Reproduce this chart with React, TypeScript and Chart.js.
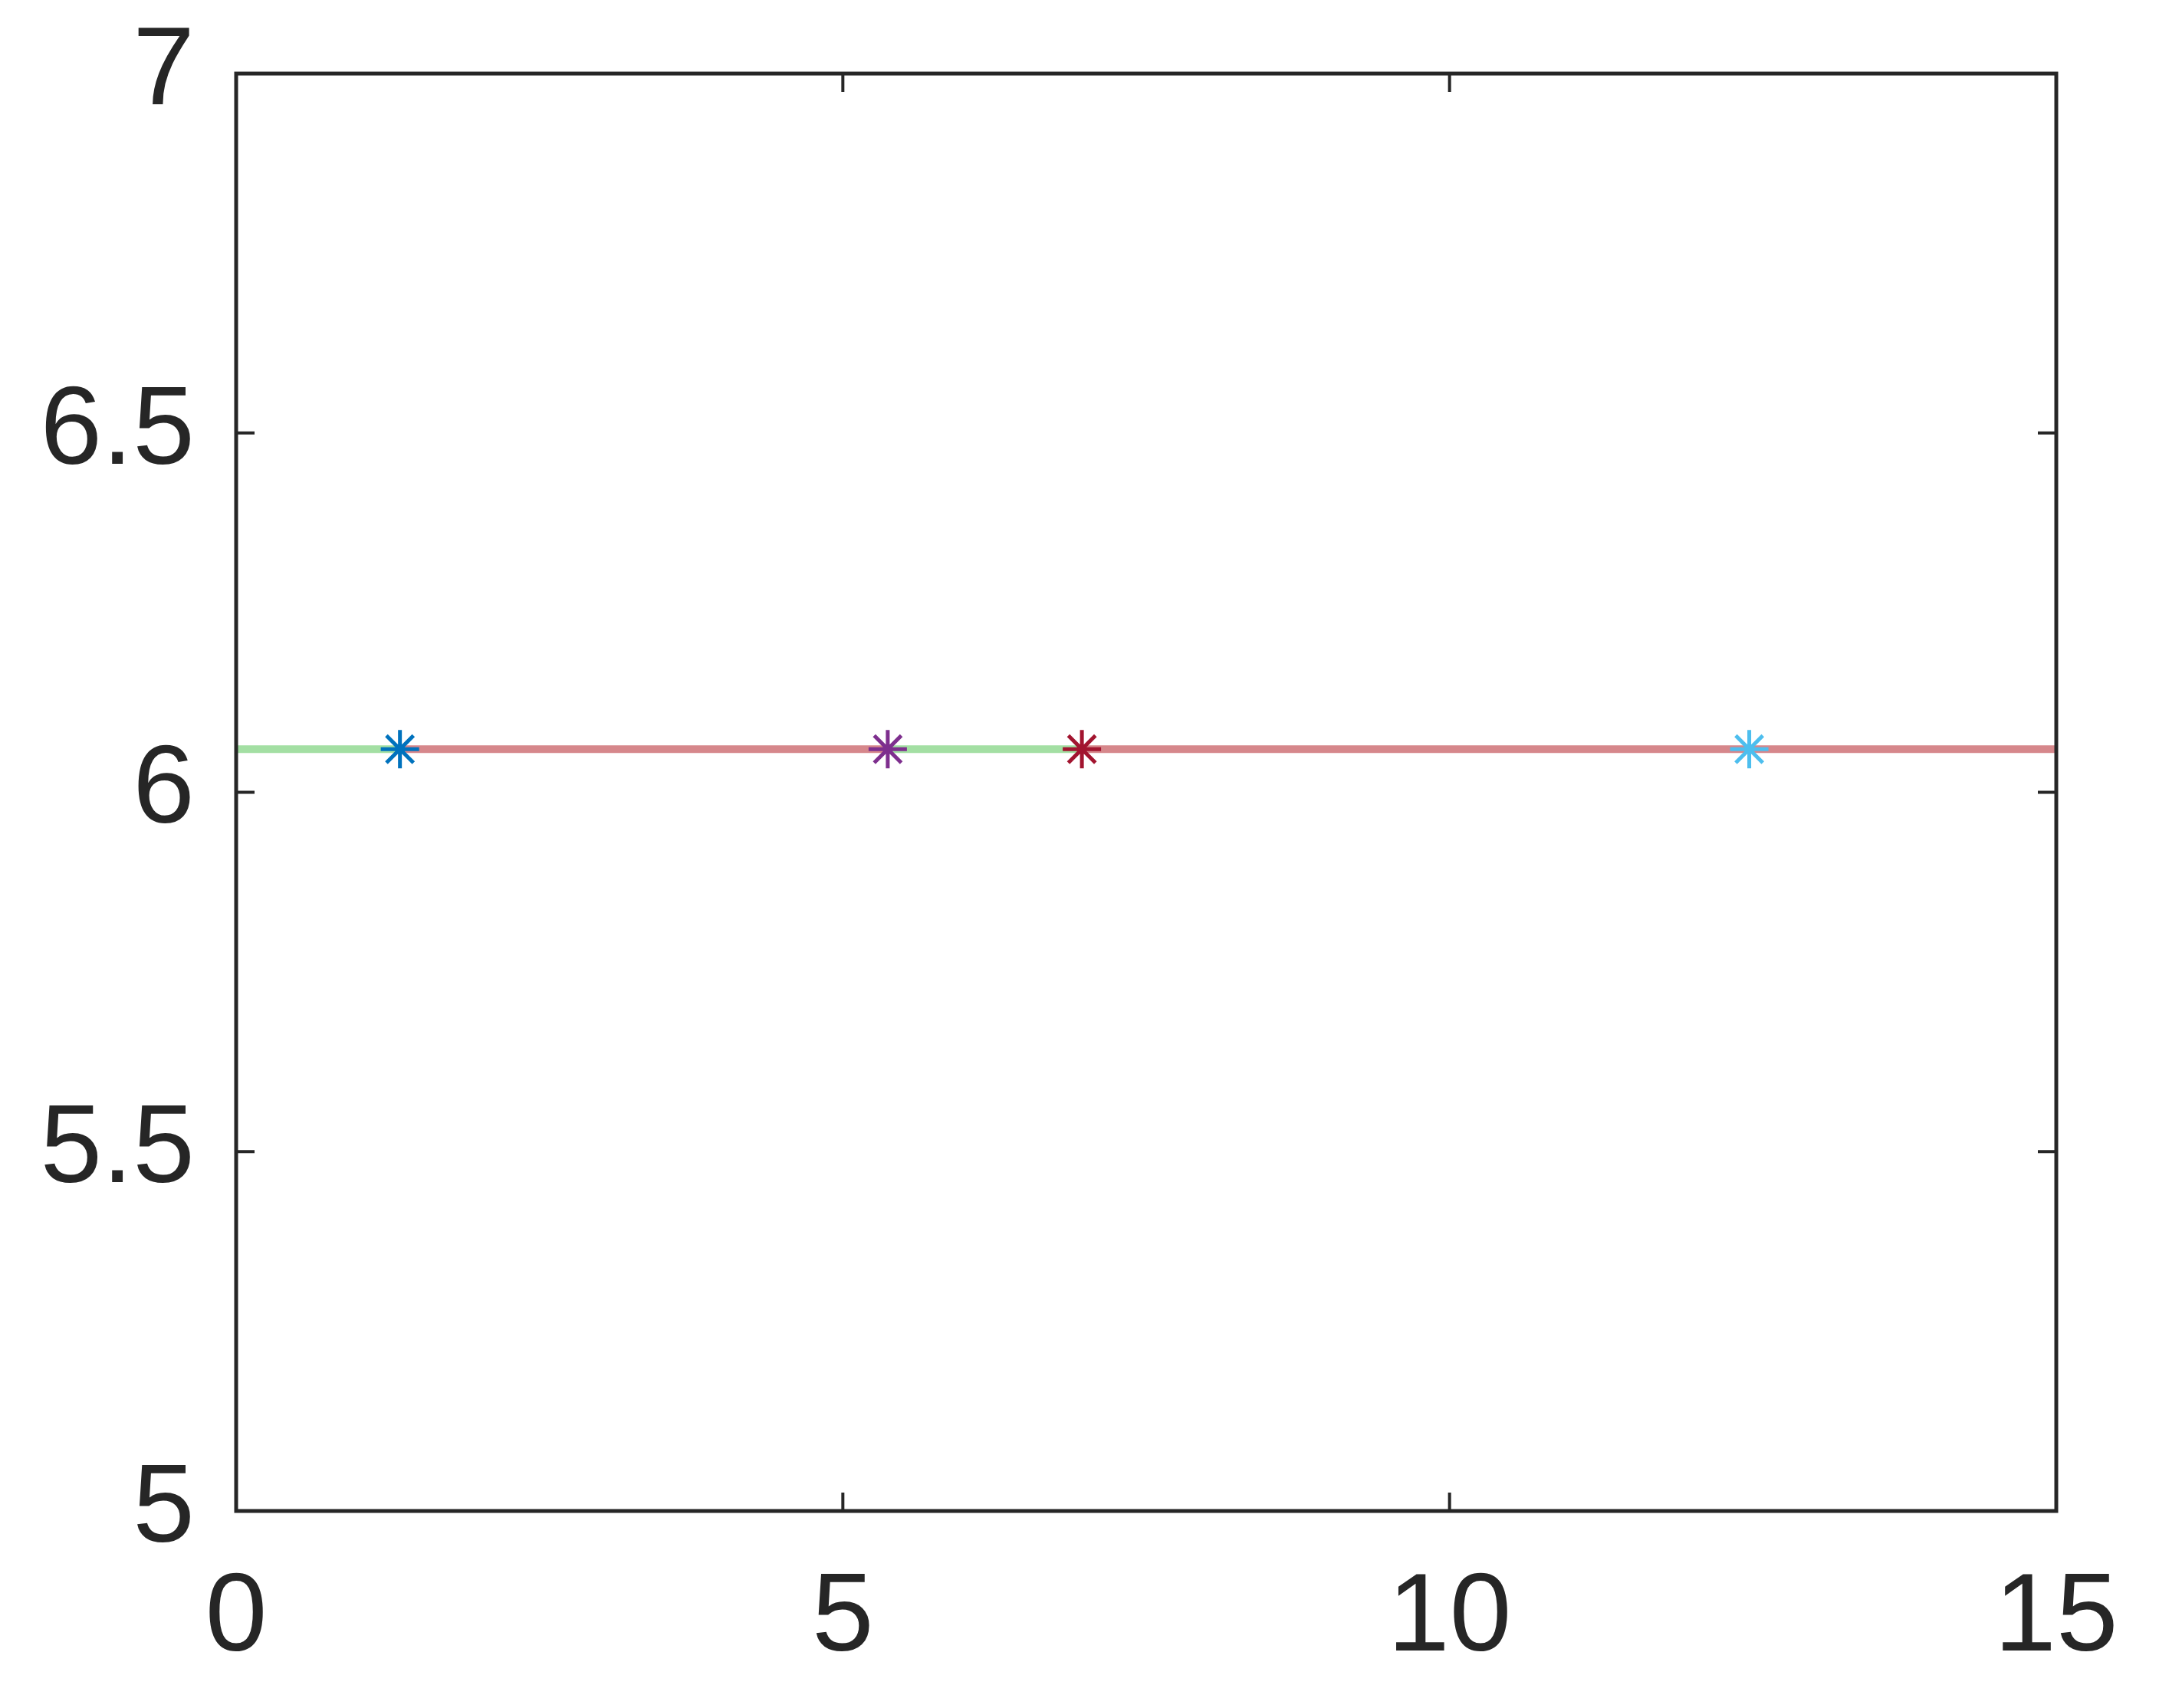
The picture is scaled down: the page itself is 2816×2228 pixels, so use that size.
import React, { useEffect, useRef } from 'react';
import { Chart, registerables } from 'chart.js';

Chart.register(...registerables);

// Tick values and labels
const xTickValues = [0, 5, 10, 15];
const xTickLabels = ['0', '5', '10', '15'];
const yTickValues = [5, 5.5, 6, 6.5, 7];
const yTickLabels = ['5', '5.5', '6', '6.5', '7'];

// Horizontal path (colored segments between points)
const pathX = [0, 1.35, 5.37, 6.97, 15];
const pathY = [6.06, 6.06, 6.06, 6.06, 6.06];
const segmentColors = ['#a3dfa3', '#d6878b', '#a3dfa3', '#d6878b'];

// Star markers
const markerX = [1.35, 5.37, 6.97, 12.47];
const markerY = [6.06, 6.06, 6.06, 6.06];
const markerColors = ['#0072BD', '#7E2F8E', '#A2142F', '#4DBEEE'];

const AXIS_COLOR = '#262626';
const FONT = { family: '"Liberation Sans", Arial, sans-serif', size: 145 };

const framePlugin = {
  id: 'frame',
  afterDatasetsDraw(chart: any) {
    const { ctx, chartArea: a, scales } = chart;
    const x = scales.x;
    const y = scales.y;
    ctx.save();
    ctx.strokeStyle = AXIS_COLOR;
    ctx.lineWidth = 5;
    ctx.strokeRect(a.left, a.top, a.right - a.left, a.bottom - a.top);
    const L = 24;
    ctx.lineWidth = 4;
    ctx.beginPath();
    xTickValues.forEach((v) => {
      const px = x.getPixelForValue(v);
      ctx.moveTo(px, a.bottom);
      ctx.lineTo(px, a.bottom - L);
      ctx.moveTo(px, a.top);
      ctx.lineTo(px, a.top + L);
    });
    yTickValues.forEach((v) => {
      const py = y.getPixelForValue(v);
      ctx.moveTo(a.left, py);
      ctx.lineTo(a.left + L, py);
      ctx.moveTo(a.right, py);
      ctx.lineTo(a.right - L, py);
    });
    ctx.stroke();
    ctx.restore();
  },
};

export default function App() {
  const canvasRef = useRef<HTMLCanvasElement | null>(null);

  useEffect(() => {
    const canvas = canvasRef.current;
    if (!canvas) return;
    const chart = new Chart(canvas, {
      type: 'scatter',
      data: {
        datasets: [
          {
            type: 'scatter',
            label: 'markers',
            data: markerX.map((v, i) => ({ x: v, y: markerY[i] })),
            pointStyle: 'star',
            pointRadius: 25,
            pointBorderWidth: 5,
            pointBorderColor: markerColors,
            pointBackgroundColor: markerColors,
            showLine: false,
            order: 0,
          },
          {
            type: 'line',
            label: 'path',
            data: pathX.map((v, i) => ({ x: v, y: pathY[i] })),
            borderWidth: 10,
            borderColor: segmentColors[0],
            pointRadius: 0,
            fill: false,
            tension: 0,
            segment: {
              borderColor: (ctx: any) => segmentColors[ctx.p0DataIndex],
            },
            order: 1,
          } as any,
        ],
      },
      options: {
        responsive: false,
        animation: false,
        devicePixelRatio: 1,
        layout: { padding: { top: 96, right: 134, left: 0, bottom: 0 } },
        plugins: {
          legend: { display: false },
          tooltip: { enabled: false },
          title: { display: false },
        },
        scales: {
          x: {
            type: 'linear',
            min: 0,
            max: 15,
            afterBuildTicks: (scale: any) => {
              scale.ticks = xTickValues.map((v) => ({ value: v }));
            },
            afterFit: (scale: any) => {
              scale.height = 257;
              scale.paddingLeft = 0;
              scale.paddingRight = 0;
            },
            grid: { display: false, drawTicks: false },
            border: { display: false },
            ticks: {
              padding: 55,
              maxRotation: 0,
              autoSkip: false,
              color: AXIS_COLOR,
              font: FONT,
              callback: (_v: any, i: number) => xTickLabels[i],
            },
          },
          y: {
            type: 'linear',
            min: 5,
            max: 7,
            afterBuildTicks: (scale: any) => {
              scale.ticks = yTickValues.map((v) => ({ value: v }));
            },
            afterFit: (scale: any) => {
              scale.width = 308;
              scale.paddingTop = 0;
              scale.paddingBottom = 0;
            },
            grid: { display: false, drawTicks: false },
            border: { display: false },
            ticks: {
              padding: 54,
              autoSkip: false,
              color: AXIS_COLOR,
              font: FONT,
              callback: (_v: any, i: number) => yTickLabels[i],
            },
          },
        },
      },
      plugins: [framePlugin],
    });
    return () => chart.destroy();
  }, []);

  return (
    <div style={{ position: 'fixed', left: 0, top: 0, width: 2816, height: 2228, background: '#fff' }}>
      <canvas ref={canvasRef} width={2816} height={2228} style={{ width: 2816, height: 2228, display: 'block' }} />
    </div>
  );
}
